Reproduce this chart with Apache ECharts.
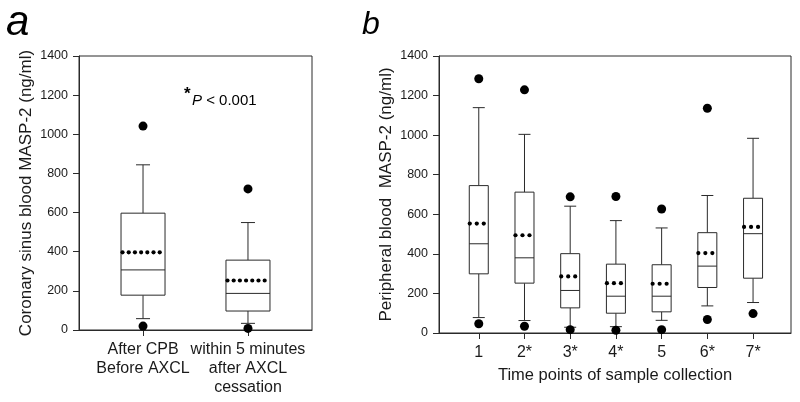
<!DOCTYPE html>
<html><head><meta charset="utf-8">
<script src="https://cdn.jsdelivr.net/npm/echarts@6/dist/echarts.min.js"></script>
<style>html,body{margin:0;padding:0;background:#fff}#c{width:800px;height:402px}</style>
</head><body><div id="c"></div>
<script>
// ---- Panel a data ----
const aCategories = ['After CPB\nBefore AXCL', 'within 5 minutes\nafter AXCL\ncessation'];
const aMin  = [58, 34];
const aQ1   = [178, 97];
const aMed  = [307, 187];
const aQ3   = [597, 357];
const aMax  = [844, 549];
const aMean = [397, 253];
const aOutHigh = [1042, 721];
const aOutLow  = [20, 8];

// ---- Panel b data ----
const bCategories = ['1', '2*', '3*', '4*', '5', '6*', '7*'];
const bMin  = [78, 63, 29, 32, 64, 137, 154];
const bQ1   = [299, 252, 127, 100, 107, 230, 277];
const bMed  = [451, 380, 215, 186, 186, 338, 502];
const bQ3   = [745, 712, 401, 348, 345, 507, 681];
const bMax  = [1139, 1004, 641, 568, 531, 695, 984];
const bMean = [553, 494, 286, 252, 249, 404, 536];
const bOutHigh = [1285, 1229, 688, 690, 627, 1136, null];
const bOutLow  = [47, 34, 17, 14, 17, 68, 98];

const yTicks = [0, 200, 400, 600, 800, 1000, 1200, 1400];

const FONT = "'Liberation Sans', Arial, sans-serif";
const LINE = '#2a2a2a';
const TXT = '#1a1a1a';

function boxData(mn, q1, md, q3, mx, mean) {
  return mn.map((v, i) => [i + 1, v, q1[i], md[i], q3[i], mx[i], mean[i]]);
}
function outData(hi, lo) {
  const r = [];
  hi.forEach((v, i) => { if (v != null) r.push([i + 1, v]); });
  lo.forEach((v, i) => { if (v != null) r.push([i + 1, v]); });
  return r;
}

function makeRender(boxW, capW, nDots, dotStart, dotStep, dotR) {
  return function (params, api) {
    const x = api.value(0);
    const yMin = api.coord([x, api.value(1)])[1];
    const yQ1 = api.coord([x, api.value(2)])[1];
    const yMed = api.coord([x, api.value(3)])[1];
    const yQ3 = api.coord([x, api.value(4)])[1];
    const yMax = api.coord([x, api.value(5)])[1];
    const yMean = api.coord([x, api.value(6)])[1];
    const cx = api.coord([x, 0])[0];
    const ls = { stroke: LINE, lineWidth: 1, fill: null };
    const ch = [
      { type: 'line', shape: { x1: cx, y1: yMax, x2: cx, y2: yQ3 }, style: ls },
      { type: 'line', shape: { x1: cx, y1: yQ1, x2: cx, y2: yMin }, style: ls },
      { type: 'line', shape: { x1: cx - capW / 2, y1: yMax, x2: cx + capW / 2, y2: yMax }, style: ls },
      { type: 'line', shape: { x1: cx - capW / 2, y1: yMin, x2: cx + capW / 2, y2: yMin }, style: ls },
      { type: 'rect', shape: { x: cx - boxW / 2, y: yQ3, width: boxW, height: yQ1 - yQ3 }, style: { stroke: LINE, lineWidth: 1, fill: '#fff' } },
      { type: 'line', shape: { x1: cx - boxW / 2, y1: yMed, x2: cx + boxW / 2, y2: yMed }, style: ls }
    ];
    for (let i = 0; i < nDots; i++) {
      ch.push({ type: 'circle', shape: { cx: cx - boxW / 2 + dotStart + i * dotStep, cy: yMean, r: dotR }, style: { fill: '#000' } });
    }
    return { type: 'group', children: ch };
  };
}

const yAxisCommon = {
  type: 'value', min: 0, max: 1400, interval: 200,
  axisLine: { show: true, lineStyle: { color: LINE, width: 1 } },
  axisTick: { show: true, inside: false, length: 6, lineStyle: { color: LINE } },
  axisLabel: { fontFamily: FONT, fontSize: 12.5, color: TXT, margin: 11, formatter: v => String(v) },
  splitLine: { show: false },
  nameLocation: 'middle', nameGap: 44, nameRotate: 90,
  nameTextStyle: { fontFamily: FONT, fontSize: 17, color: TXT }
};

const chart = echarts.init(document.getElementById('c'), null, { renderer: 'canvas' });
chart.setOption({
  animation: false,
  backgroundColor: '#fff',
  grid: [
    { left: 79, right: 488, top: 56, bottom: 72, show: true, borderColor: LINE, borderWidth: 1, backgroundColor: 'transparent' },
    { left: 439, right: 9, top: 56, bottom: 69, show: true, borderColor: LINE, borderWidth: 1, backgroundColor: 'transparent' }
  ],
  xAxis: [
    {
      gridIndex: 0, type: 'value', min: 0.39, max: 2.61,
      axisLine: { show: true, lineStyle: { color: LINE } },
      axisTick: { show: true, length: 6, lineStyle: { color: LINE }, customValues: [1, 2] },
      axisLabel: { customValues: [1, 2], formatter: v => aCategories[Math.round(v) - 1], fontFamily: FONT, fontSize: 16, lineHeight: 19, color: TXT, margin: 10 },
      splitLine: { show: false }
    },
    {
      gridIndex: 1, type: 'value', min: 0.13, max: 7.83,
      axisLine: { show: true, lineStyle: { color: LINE } },
      axisTick: { show: true, length: 6, lineStyle: { color: LINE }, customValues: [1, 2, 3, 4, 5, 6, 7] },
      axisLabel: { customValues: [1, 2, 3, 4, 5, 6, 7], formatter: v => bCategories[Math.round(v) - 1], fontFamily: FONT, fontSize: 16, lineHeight: 19, color: TXT, margin: 10 },
      splitLine: { show: false },
      name: 'Time points of sample collection', nameLocation: 'middle', nameGap: 31,
      nameTextStyle: { fontFamily: FONT, fontSize: 16.5, color: TXT }
    }
  ],
  yAxis: [
    Object.assign({}, yAxisCommon, { gridIndex: 0, name: 'Coronary sinus blood MASP-2 (ng/ml)' }),
    Object.assign({}, yAxisCommon, { gridIndex: 1, name: 'Peripheral blood  MASP-2 (ng/ml)' })
  ],
  series: [
    { type: 'custom', xAxisIndex: 0, yAxisIndex: 0, renderItem: makeRender(44, 14, 7, 1.5, 6.2, 2.1), data: boxData(aMin, aQ1, aMed, aQ3, aMax, aMean), encode: { x: 0, y: [1, 5] } },
    { type: 'scatter', xAxisIndex: 0, yAxisIndex: 0, symbol: 'circle', symbolSize: 9, itemStyle: { color: '#000', opacity: 1 }, data: outData(aOutHigh, aOutLow) },
    { type: 'custom', xAxisIndex: 1, yAxisIndex: 1, renderItem: makeRender(19, 12, 3, 0.5, 7, 2.1), data: boxData(bMin, bQ1, bMed, bQ3, bMax, bMean), encode: { x: 0, y: [1, 5] } },
    { type: 'scatter', xAxisIndex: 1, yAxisIndex: 1, symbol: 'circle', symbolSize: 9, itemStyle: { color: '#000', opacity: 1 }, data: outData(bOutHigh, bOutLow) }
  ],
  graphic: [
    { type: 'text', left: 6, top: 2, style: { text: 'a', font: 'italic 42px ' + FONT, fill: '#000' } },
    { type: 'text', left: 362, top: 9, style: { text: 'b', font: 'italic 32px ' + FONT, fill: '#000' } },
    { type: 'text', x: 184, y: 86, style: { text: '*', font: 'bold 17px ' + FONT, fill: '#000' } },
    { type: 'text', x: 192, y: 93, style: { text: 'P', font: 'italic 15px ' + FONT, fill: '#000' } },
    { type: 'text', x: 202, y: 93, style: { text: ' < 0.001', font: '15px ' + FONT, fill: '#000' } }
  ]
});
</script></body></html>
